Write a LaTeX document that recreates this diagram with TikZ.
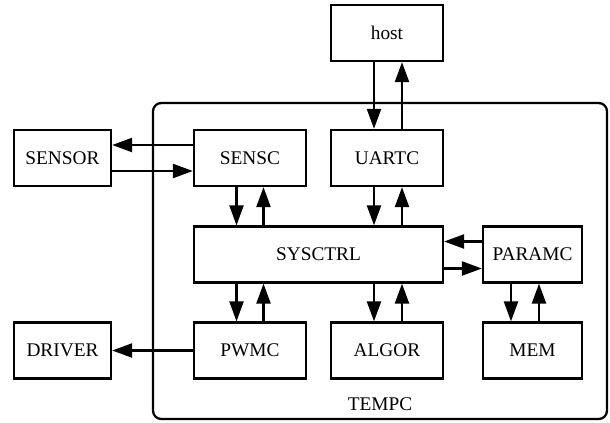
\documentclass[tikz,border=0pt]{standalone}
\usepackage{fontspec}
\setmainfont{Liberation Serif}
\usetikzlibrary{arrows.meta}

\begin{document}
\begin{tikzpicture}[x=0.6pt,y=-0.6pt,font=\fontsize{11.6}{13}\selectfont,
  blk/.style={draw,line width=1.35pt,minimum height=33.6pt,inner sep=0pt},
  arr/.style={line width=1.35pt,-{Triangle[length=12pt,width=8.4pt]}}]
\useasboundingbox (0,0) rectangle (610,422);

\draw[line width=1.35pt,rounded corners=5pt] (153,103) rectangle (607,419);
\node (tempc) at (380,404) {TEMPC};

\node[blk,minimum width=67.2pt] (host) at (387,33) {host};
\node[blk,minimum width=58.2pt] (sensor) at (62.5,158) {SENSOR};
\node[blk,minimum width=67.2pt] (sensc) at (250,158) {SENSC};
\node[blk,minimum width=67.2pt] (uartc) at (387,158) {UARTC};
\node[blk,minimum width=149.4pt] (sysctrl) at (318.5,254.5) {SYSCTRL};
\node[blk,minimum width=59.4pt] (paramc) at (532.5,254.5) {PARAMC};
\node[blk,minimum width=58.2pt] (driver) at (62.5,350.5) {DRIVER};
\node[blk,minimum width=67.2pt] (pwmc) at (250,350.5) {PWMC};
\node[blk,minimum width=67.2pt] (algor) at (387,350.5) {ALGOR};
\node[blk,minimum width=59.4pt] (mem) at (532.5,350.5) {MEM};

\draw[arr] ([xshift=-7.8pt]host.south) -- ([xshift=-7.8pt]uartc.north);
\draw[arr] ([xshift=9pt]uartc.north) -- ([xshift=9pt]host.south);

\draw[arr] ([yshift=7.8pt]sensc.west) -- ([yshift=7.8pt]sensor.east);
\draw[arr] ([yshift=-7.8pt]sensor.east) -- ([yshift=-7.8pt]sensc.west);

\draw[arr] ([xshift=-8.1pt]sensc.south) -- ([xshift=-8.1pt]sensc.south |- sysctrl.north);
\draw[arr] ([xshift=8.1pt]sensc.south |- sysctrl.north) -- ([xshift=8.1pt]sensc.south);
\draw[arr] ([xshift=-7.8pt]uartc.south) -- ([xshift=-7.8pt]uartc.south |- sysctrl.north);
\draw[arr] ([xshift=9pt]uartc.south |- sysctrl.north) -- ([xshift=9pt]uartc.south);

\draw[arr] ([yshift=7.8pt]paramc.west) -- ([yshift=7.8pt]sysctrl.east);
\draw[arr] ([yshift=-8.4pt]sysctrl.east) -- ([yshift=-8.4pt]paramc.west);

\draw[arr] ([xshift=-8.1pt]pwmc.north |- sysctrl.south) -- ([xshift=-8.1pt]pwmc.north);
\draw[arr] ([xshift=8.1pt]pwmc.north) -- ([xshift=8.1pt]pwmc.north |- sysctrl.south);
\draw[arr] ([xshift=-7.8pt]algor.north |- sysctrl.south) -- ([xshift=-7.8pt]algor.north);
\draw[arr] ([xshift=9pt]algor.north) -- ([xshift=9pt]algor.north |- sysctrl.south);
\draw[arr] ([xshift=-12.9pt]paramc.south) -- ([xshift=-12.9pt]mem.north);
\draw[arr] ([xshift=3.9pt]mem.north) -- ([xshift=3.9pt]paramc.south);

\draw[arr] (pwmc.west) -- (driver.east);
\end{tikzpicture}
\end{document}
